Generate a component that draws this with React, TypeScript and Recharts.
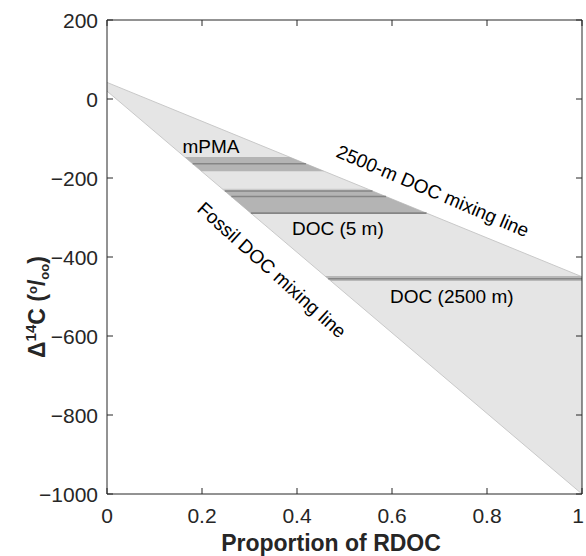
import React from 'react';
import { ComposedChart, Area, Line, XAxis, YAxis } from 'recharts';

// axis ticks
const X_TICKS = [0, 0.2, 0.4, 0.6, 0.8, 1];
const Y_TICKS = [200, 0, -200, -400, -600, -800, -1000];
const X_DOMAIN = [0, 1];
const Y_DOMAIN = [-1000, 200];

// mixing lines, end points as [proportion RDOC, Δ14C]
const LINE_2500M = [[0, 42], [1, -450]];
const LINE_FOSSIL = [[0, 20], [1, -1000]];

// measured Δ14C bands (low, high)
const BAND_LOW = [-183, -289, -231, -461];
const BAND_HIGH = [-147, -231, -227, -448];
// mean values drawn as darker lines
const MEAN_VALUES = [-164, -233, -247, -289, -455];

const BAND_FILLS = ['#b4b4b4', '#b4b4b4', '#cbcbcb', '#b8b8b8'];

const ANNOTATIONS = [
  { text: 'mPMA', x: 0.219, y: -119, angle: 0 },
  { text: 'DOC (5 m)', x: 0.486, y: -327, angle: 0 },
  { text: 'DOC (2500 m)', x: 0.726, y: -501, angle: 0 },
  { text: '2500-m DOC mixing line', x: 0.686, y: -233, angle: 23 },
  { text: 'Fossil DOC mixing line', x: 0.347, y: -433, angle: 42 },
];

const FONT = '"Liberation Sans", Arial, Helvetica, sans-serif';
const INK = '#262626';

// chart geometry (same numbers as the chart's margins / axis sizes below)
const W = 586;
const H = 556;
const LEFT = 107;
const TOP = 20;
const RIGHT = 4;
const BOTTOM = 62;
const px = (x: number) => LEFT + ((x - X_DOMAIN[0]) / (X_DOMAIN[1] - X_DOMAIN[0])) * (W - LEFT - RIGHT);
const py = (y: number) => TOP + ((Y_DOMAIN[1] - y) / (Y_DOMAIN[1] - Y_DOMAIN[0])) * (H - TOP - BOTTOM);

const lineY = (l: number[][], x: number) =>
  l[0][1] + ((l[1][1] - l[0][1]) * (x - l[0][0])) / (l[1][0] - l[0][0]);
const lineX = (l: number[][], y: number) =>
  l[0][0] + ((y - l[0][1]) * (l[1][0] - l[0][0])) / (l[1][1] - l[0][1]);

// band clipped between the fossil line (left) and the 2500-m line / x=1 (right)
const bandData = (lo: number, hi: number) => {
  const xs = [
    lineX(LINE_FOSSIL, hi),
    lineX(LINE_FOSSIL, lo),
    Math.min(1, lineX(LINE_2500M, hi)),
    Math.min(1, lineX(LINE_2500M, lo)),
  ].sort((a, b) => a - b);
  return xs.map((x) => ({
    x,
    range: [Math.max(lo, lineY(LINE_FOSSIL, x)), Math.min(hi, lineY(LINE_2500M, x))],
  }));
};

const meanData = (y: number) => [
  { x: lineX(LINE_FOSSIL, y), y },
  { x: Math.min(1, lineX(LINE_2500M, y)), y },
];

const triangle = [
  { x: 0, range: [LINE_FOSSIL[0][1], LINE_2500M[0][1]] },
  { x: 1, range: [LINE_FOSSIL[1][1], LINE_2500M[1][1]] },
];

const XTick = (props: any) => (
  <text
    x={props.x - (props.payload.value === 1 ? 4 : 0)}
    y={props.y + 29}
    textAnchor="middle"
    fontSize={21}
    fontFamily={FONT}
    fill={INK}
  >
    {props.payload.value}
  </text>
);

const YTick = (props: any) => (
  <text x={props.x - 9} y={props.y + 7.5} textAnchor="end" fontSize={21} fontFamily={FONT} fill={INK}>
    {props.payload.value < 0 ? '\u2212' + Math.abs(props.payload.value) : props.payload.value}
  </text>
);

export default function App() {
  return (
    <div style={{ position: 'absolute', left: 0, top: 0, width: W, height: H, background: '#fff' }}>
      <ComposedChart width={W} height={H} margin={{ top: TOP, right: RIGHT, bottom: 0, left: 0 }}>
        <XAxis
          type="number"
          dataKey="x"
          domain={X_DOMAIN}
          ticks={X_TICKS}
          height={BOTTOM}
          tickSize={-6}
          tickMargin={6}
          stroke={INK}
          tick={XTick}
          allowDataOverflow
        />
        <YAxis
          type="number"
          domain={Y_DOMAIN}
          ticks={Y_TICKS}
          width={LEFT}
          tickSize={-6}
          tickMargin={6}
          stroke={INK}
          tick={YTick}
          allowDataOverflow
        />
        <Area
          data={triangle}
          dataKey="range"
          type="linear"
          fill="#e5e5e5"
          fillOpacity={1}
          stroke="#c9c9c9"
          strokeWidth={1}
          isAnimationActive={false}
          activeDot={false}
        />
        {BAND_LOW.map((lo, i) => (
          <Area
            key={'band' + i}
            data={bandData(lo, BAND_HIGH[i])}
            dataKey="range"
            type="linear"
            fill={BAND_FILLS[i]}
            fillOpacity={1}
            stroke="none"
            isAnimationActive={false}
            activeDot={false}
          />
        ))}
        {MEAN_VALUES.map((v, i) => (
          <Line
            key={'mean' + i}
            data={meanData(v)}
            dataKey="y"
            type="linear"
            stroke="#858585"
            strokeWidth={1.6}
            dot={false}
            activeDot={false}
            isAnimationActive={false}
          />
        ))}
      </ComposedChart>
      <svg width={W} height={H} style={{ position: 'absolute', left: 0, top: 0, pointerEvents: 'none' }}>
        {/* box frame: top and right edges with inward ticks */}
        <line x1={px(0)} x2={px(1)} y1={py(200)} y2={py(200)} stroke={INK} strokeWidth={1} />
        <line x1={px(1)} x2={px(1)} y1={py(200)} y2={py(-1000)} stroke={INK} strokeWidth={1} />
        {X_TICKS.map((t) => (
          <line key={'tx' + t} x1={px(t)} x2={px(t)} y1={py(200)} y2={py(200) + 6} stroke={INK} strokeWidth={1} />
        ))}
        {Y_TICKS.map((t) => (
          <line key={'ty' + t} x1={px(1)} x2={px(1) - 6} y1={py(t)} y2={py(t)} stroke={INK} strokeWidth={1} />
        ))}
        {ANNOTATIONS.map((a) => (
          <text
            key={a.text}
            x={px(a.x)}
            y={py(a.y)}
            transform={`rotate(${a.angle}, ${px(a.x)}, ${py(a.y)})`}
            textAnchor="middle"
            dominantBaseline="central"
            fontSize={19}
            fontFamily={FONT}
            fill="#000"
          >
            {a.text}
          </text>
        ))}
        <text x={331} y={551} textAnchor="middle" fontSize={23} fontWeight="bold" fontFamily={FONT} fill={INK}>
          Proportion of RDOC
        </text>
        <text
          x={45}
          y={307}
          transform="rotate(-90, 45, 307)"
          textAnchor="middle"
          fontSize={23}
          fontWeight="bold"
          fontFamily={FONT}
          fill={INK}
        >
          Δ
          <tspan fontSize={15} dy={-9}>14</tspan>
          <tspan dy={9}>C (</tspan>
          <tspan fontSize={13} dy={-8}>o</tspan>
          <tspan dy={8}>/</tspan>
          <tspan fontSize={13} dy={4}>oo</tspan>
          <tspan dy={-4}>)</tspan>
        </text>
      </svg>
    </div>
  );
}
